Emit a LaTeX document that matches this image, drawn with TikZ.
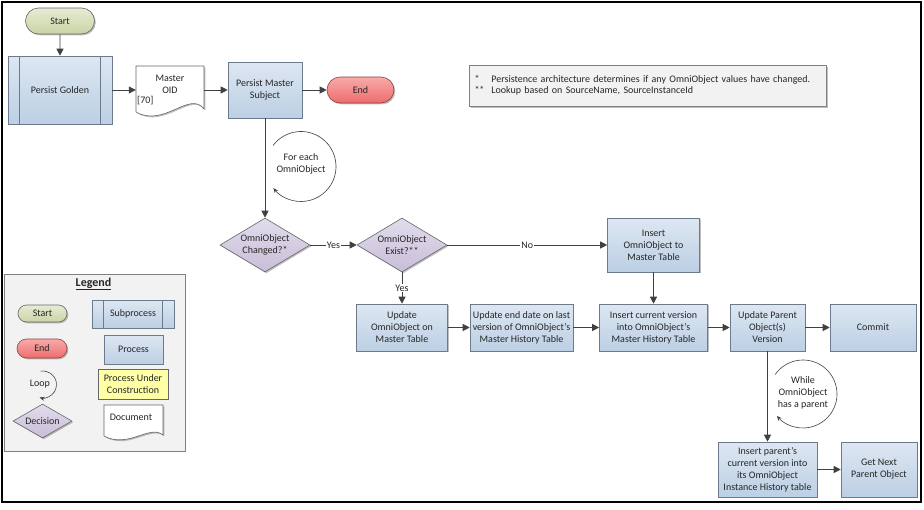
\documentclass[tikz,border=0pt]{standalone}
\usepackage{fontspec}
\setmainfont{Carlito}
\usetikzlibrary{arrows.meta,shapes.geometric,shapes.misc,shadows}
\definecolor{txt}{HTML}{262626}
\definecolor{procdraw}{HTML}{6B7B8C}
\definecolor{procT}{HTML}{DDE7F2}
\definecolor{procB}{HTML}{BCCFE4}
\definecolor{startT}{HTML}{E6EBD3}
\definecolor{startB}{HTML}{CAD4A6}
\definecolor{endT}{HTML}{F9AAAA}
\definecolor{endB}{HTML}{EE6C6C}
\definecolor{decT}{HTML}{E2DCEC}
\definecolor{decB}{HTML}{C8BDD8}
\definecolor{pucfill}{HTML}{FFFFA6}
\definecolor{conncol}{HTML}{404040}
\definecolor{graydraw}{HTML}{808080}
\definecolor{notefill}{HTML}{F2F2F2}
\begin{document}
\begin{tikzpicture}[x=1pt,y=-1pt,
  every node/.style={font=\fontsize{10}{12}\selectfont, text=txt},
  shad/.style={drop shadow={shadow xshift=1.3pt, shadow yshift=-1.3pt, opacity=0.25, fill=black}},
  proc/.style={rectangle, draw=procdraw, line width=0.6pt, top color=procT, bottom color=procB,
    align=center, inner xsep=2pt, inner ysep=1pt, shad},
  procline/.style={draw=procdraw, line width=0.6pt},
  term/.style={rounded rectangle, draw=graydraw!80!black, line width=0.6pt, align=center, inner sep=1pt, shad},
  startbox/.style={term, top color=startT, bottom color=startB},
  endbox/.style={term, top color=endT, bottom color=endB, draw=endB!60!black},
  decis/.style={diamond, draw=graydraw!80!black, line width=0.6pt, top color=decT, bottom color=decB,
    align=center, inner sep=0pt, aspect=1.67, shad},
  docshape/.style={draw=graydraw!80!black, line width=0.6pt, fill=white, shad},
  conn/.style={draw=conncol, line width=0.8pt, -{Triangle[length=7pt,width=7pt]}},
  lbl/.style={fill=white, inner sep=1pt},
  loopl/.style={draw=conncol, line width=0.6pt, -{Stealth[length=5pt,width=4pt]}},
  plain/.style={align=center, inner sep=0pt},
]
% bounding box and frame
\path[fill=white] (0,0) rectangle (924,509);
\draw[line width=1.1pt, black] (2,2) rectangle (921,502);

% ---------- top flow ----------
\node[startbox, minimum width=71pt, minimum height=26pt] (start) at (60,21) {Start};
\node[proc, minimum width=104pt, minimum height=68pt] (pg) at (60,90) {Persist Golden};
\draw[procline] ([xshift=12pt]pg.north west) -- ([xshift=12pt]pg.south west);
\draw[procline] ([xshift=-12pt]pg.north east) -- ([xshift=-12pt]pg.south east);

\begin{scope}[shift={(136,66)}]
  \draw[docshape] (0,0) -- (68,0) -- (68,43) .. controls (54,24) and (28,62) .. (0,46) -- cycle;
\end{scope}
\node[minimum width=68pt, minimum height=48pt, inner sep=0pt] (oid) at (170,90) {};
\node[plain] (oidtxt) at (170,84) {Master\\OID};
\node[plain, anchor=west] (oid70) at (137,101) {[70]};

\node[proc, minimum width=74pt, minimum height=56pt] (psub) at (265,90) {Persist Master\\Subject};
\node[endbox, minimum width=69pt, minimum height=26pt] (endn) at (360.5,90) {End};

\draw[conn] (start) -- (pg);
\draw[conn] (pg) -- (oid);
\draw[conn] (oid) -- (psub);
\draw[conn] (psub) -- (endn);

% note
\node[rectangle, draw=graydraw, line width=0.6pt, fill=notefill, shad, minimum width=357pt, minimum height=41pt,
  text width=347pt, inner xsep=5pt, align=left] (note) at (648,86)
  {\begin{tabular}{@{}l@{\hspace{7pt}}l@{}}*&Persistence architecture determines if any OmniObject values have changed.\\[-1pt]
   **&Lookup based on SourceName, SourceInstanceId\end{tabular}};

% ---------- loop 1 ----------
\node[plain] (loop1) at (301,164) {For each\\OmniObject};
\draw[loopl] ([shift={(-143:35)}]301,166.5) arc[start angle=-143, end angle=142, radius=35];

% ---------- decisions ----------
\node[decis, minimum width=90pt, minimum height=54pt] (dec1) at (265,245) {OmniObject\\Changed?*};
\node[decis, minimum width=90pt, minimum height=54pt] (dec2) at (402,245) {OmniObject\\Exist?**};
\node[proc, minimum width=92pt, minimum height=54pt] (ins1) at (653.5,245) {Insert\\OmniObject to\\Master Table};

\draw[conn] (psub) -- (dec1);
\draw[conn] (dec1) -- node[lbl] {Yes} (dec2);
\draw[conn] (dec2) -- node[lbl] {No} (ins1);

% ---------- row ----------
\node[proc, minimum width=91pt, minimum height=47pt] (upd) at (402,327.5) {Update\\OmniObject on\\Master Table};
\node[proc, minimum width=103pt, minimum height=47pt] (upd2) at (521.5,327.5) {Update end date on last\\version of OmniObject’s\\Master History Table};
\node[proc, minimum width=108pt, minimum height=47pt] (ins2) at (653.5,327.5) {Insert current version\\into OmniObject’s\\Master History Table};
\node[proc, minimum width=75pt, minimum height=47pt] (upp) at (767.5,327.5) {Update Parent\\Object(s)\\Version};
\node[proc, minimum width=86pt, minimum height=47pt] (commit) at (873,327.5) {Commit};

\draw[conn] (dec2) -- node[lbl] {Yes} (upd);
\draw[conn] (ins1) -- (ins2);
\draw[conn] (upd) -- (upd2);
\draw[conn] (upd2) -- (ins2);
\draw[conn] (ins2) -- (upp);
\draw[conn] (upp) -- (commit);

% ---------- loop 2 ----------
\node[plain] (loop2) at (803,393) {While\\OmniObject\\has a parent};
\draw[loopl] ([shift={(-145:34)}]803,394) arc[start angle=-145, end angle=140, radius=34];

\node[proc, minimum width=99pt, minimum height=55pt] (insp) at (767.5,469.5) {Insert parent’s\\current version into\\its OmniObject\\Instance History table};
\node[proc, minimum width=76pt, minimum height=55pt] (gnp) at (879,469.5) {Get Next\\Parent Object};

\draw[conn] (upp) -- (insp);
\draw[conn] (insp) -- (gnp);

% ---------- legend ----------
\node[rectangle, draw=graydraw, line width=0.6pt, fill=notefill, shad, minimum width=181pt, minimum height=177pt] (legend) at (94.5,362.5) {};
\node[plain, font=\fontsize{12}{14}\selectfont] (legtitle) at (93.5,284) {\underline{\textbf{Legend}}};
\node[startbox, minimum width=51pt, minimum height=17pt] (lstart) at (42.5,313.5) {Start};
\node[endbox, minimum width=52pt, minimum height=19pt] (lend) at (42,348.5) {End};
\node[plain] (lloop) at (40,384) {Loop};
\draw[loopl] ([shift={(-100:13.5)}]43,384.5) arc[start angle=-100, end angle=105, radius=13.5];
\node[decis, minimum width=59pt, minimum height=34pt] (ldec) at (42.5,421) {Decision};

\node[proc, minimum width=82pt, minimum height=28pt] (lsub) at (133,314) {Subprocess};
\draw[procline] ([xshift=12pt]lsub.north west) -- ([xshift=12pt]lsub.south west);
\draw[procline] ([xshift=-12pt]lsub.north east) -- ([xshift=-12pt]lsub.south east);
\node[proc, minimum width=59pt, minimum height=29pt] (lproc) at (133.5,349.5) {Process};
\node[rectangle, draw=graydraw!80!black, line width=0.6pt, fill=pucfill, shad, align=center, inner sep=1pt,
  minimum width=70pt, minimum height=30pt] (lpuc) at (133,384) {Process Under\\Construction};
\begin{scope}[shift={(104,405)}]
  \draw[docshape] (0,0) -- (59,0) -- (59,30) .. controls (46,19) and (24,44) .. (0,31) -- cycle;
\end{scope}
\node[plain] (ldoc) at (131,417.5) {Document};
\end{tikzpicture}
\end{document}
